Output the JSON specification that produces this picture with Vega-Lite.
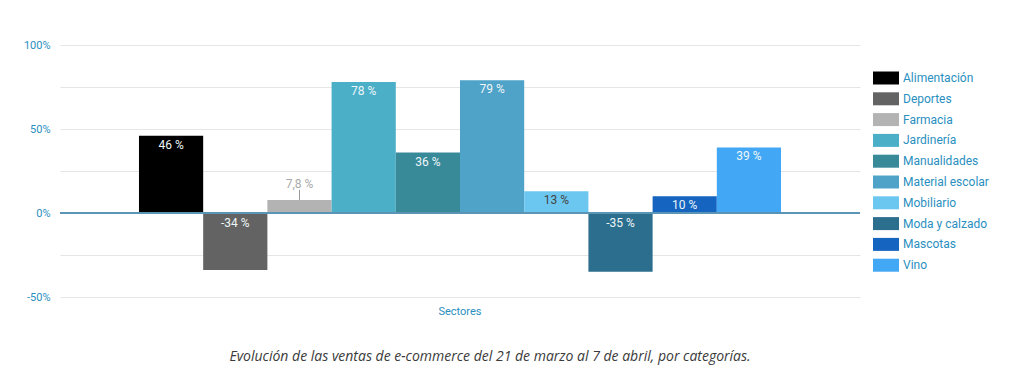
{
  "$schema": "https://vega.github.io/schema/vega-lite/v6.json",
  "width": 800,
  "height": 252,
  "autosize": {"type": "none"},
  "padding": {"left": 60, "top": 45, "right": 164, "bottom": 83},
  "background": "white",
  "config": {
    "font": "Roboto",
    "view": {"stroke": null}
  },
  "title": {
    "text": "Evolución de las ventas de e-commerce del 21 de marzo al 7 de abril, por categorías.",
    "orient": "bottom",
    "anchor": "middle",
    "frame": "group",
    "dx": 30,
    "offset": 34,
    "font": "Open Sans",
    "fontStyle": "italic",
    "fontWeight": "normal",
    "fontSize": 14,
    "color": "#3a3a3a"
  },
  "data": {
    "values": [
      {"grupo": "Sectores", "categoria": "Alimentación", "valor": 46, "etiqueta": "46 %"},
      {"grupo": "Sectores", "categoria": "Deportes", "valor": -34, "etiqueta": "-34 %"},
      {"grupo": "Sectores", "categoria": "Farmacia", "valor": 7.8, "etiqueta": "7,8 %"},
      {"grupo": "Sectores", "categoria": "Jardinería", "valor": 78, "etiqueta": "78 %"},
      {"grupo": "Sectores", "categoria": "Manualidades", "valor": 36, "etiqueta": "36 %"},
      {"grupo": "Sectores", "categoria": "Material escolar", "valor": 79, "etiqueta": "79 %"},
      {"grupo": "Sectores", "categoria": "Mobiliario", "valor": 13, "etiqueta": "13 %"},
      {"grupo": "Sectores", "categoria": "Moda y calzado", "valor": -35, "etiqueta": "-35 %"},
      {"grupo": "Sectores", "categoria": "Mascotas", "valor": 10, "etiqueta": "10 %"},
      {"grupo": "Sectores", "categoria": "Vino", "valor": 39, "etiqueta": "39 %"}
    ]
  },
  "encoding": {
    "x": {
      "field": "grupo",
      "type": "nominal",
      "scale": {"paddingInner": 0, "paddingOuter": 0.123},
      "axis": {
        "title": null,
        "labelAngle": 0,
        "ticks": false,
        "domain": false,
        "labelColor": "#2a8fbf",
        "labelFontSize": 11,
        "labelPadding": 8
      }
    },
    "xOffset": {
      "field": "categoria",
      "type": "nominal",
      "sort": ["Alimentación", "Deportes", "Farmacia", "Jardinería", "Manualidades", "Material escolar", "Mobiliario", "Moda y calzado", "Mascotas", "Vino"],
      "scale": {"paddingInner": 0, "paddingOuter": 0}
    }
  },
  "layer": [
    {
      "mark": {"type": "bar"},
      "encoding": {
        "y": {
          "field": "valor",
          "type": "quantitative",
          "scale": {"domain": [-50, 100], "nice": false},
          "axis": {
            "title": null,
            "values": [-50, -25, 0, 25, 50, 75, 100],
            "labelExpr": "datum.value % 50 == 0 ? datum.value + '%' : ''",
            "ticks": false,
            "domain": false,
            "gridColor": "#e6e6e6",
            "labelColor": "#2a8fbf",
            "labelFontSize": 11,
            "labelPadding": 10
          }
        },
        "color": {
          "field": "categoria",
          "type": "nominal",
          "scale": {
            "domain": ["Alimentación", "Deportes", "Farmacia", "Jardinería", "Manualidades", "Material escolar", "Mobiliario", "Moda y calzado", "Mascotas", "Vino"],
            "range": ["#000000", "#636363", "#b3b3b3", "#4bafc8", "#388a99", "#4fa3c8", "#6cc7f0", "#2b6e8e", "#1565c0", "#42a7f5"]
          },
          "legend": {
            "title": null,
            "orient": "none",
            "legendX": 819.5,
            "legendY": 26.5,
            "symbolType": "M-2,-1H2V1H-2Z",
            "symbolSize": 169,
            "symbolStrokeWidth": 0,
            "symbolOpacity": 1,
            "labelOffset": 10.5,
            "labelFontSize": 12,
            "labelColor": "#2a8fbf",
            "rowPadding": 7.8
          }
        }
      }
    },
    {
      "mark": {"type": "rule", "color": "#5b95b5", "strokeWidth": 1.5},
      "encoding": {"y": {"datum": 0}, "x": null, "xOffset": null}
    },
    {
      "transform": [{"filter": "datum.valor > 0 && datum.categoria != 'Farmacia'"}],
      "mark": {"type": "text", "baseline": "middle", "dy": 9, "fontSize": 12},
      "encoding": {
        "y": {"field": "valor", "type": "quantitative"},
        "text": {"field": "etiqueta"},
        "color": {
          "condition": {"test": "datum.categoria == 'Mobiliario'", "value": "#444444"},
          "value": "#eef6f8"
        }
      }
    },
    {
      "transform": [{"filter": "datum.valor < 0"}],
      "mark": {"type": "text", "baseline": "middle", "dy": 10, "fontSize": 12, "color": "#eef6f8"},
      "encoding": {
        "y": {"datum": 0},
        "text": {"field": "etiqueta"}
      }
    },
    {
      "transform": [{"filter": "datum.categoria == 'Farmacia'"}],
      "mark": {"type": "text", "baseline": "middle", "dy": -16, "fontSize": 12, "color": "#aaaaaa"},
      "encoding": {
        "y": {"field": "valor", "type": "quantitative"},
        "text": {"field": "etiqueta"}
      }
    },
    {
      "transform": [{"filter": "datum.categoria == 'Farmacia'"}],
      "mark": {"type": "rule", "color": "#999999", "strokeWidth": 1, "y2Offset": -10},
      "encoding": {
        "y": {"field": "valor", "type": "quantitative"},
        "y2": {"field": "valor"}
      }
    }
  ]
}
